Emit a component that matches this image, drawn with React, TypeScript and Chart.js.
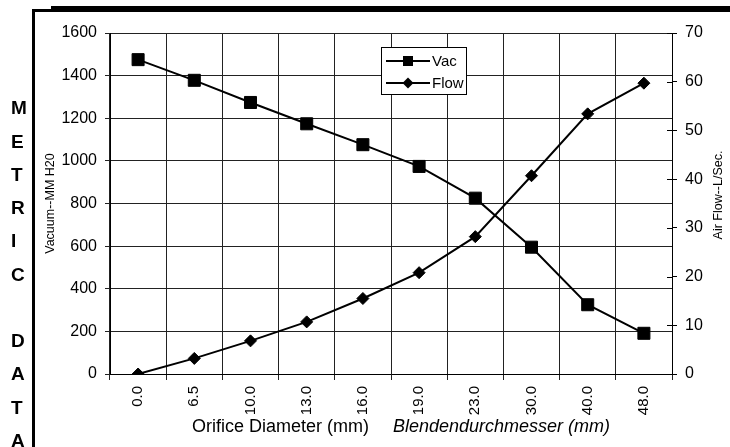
import React, { useEffect, useRef } from 'react';
import { Chart, registerables } from 'chart.js';

Chart.register(...registerables);

const categories = ['0.0', '6.5', '10.0', '13.0', '16.0', '19.0', '23.0', '30.0', '40.0', '48.0'];
const vacuum = [1475, 1378, 1274, 1174, 1076, 974, 825, 595, 325, 191];
const flow = [0, 3.2, 6.8, 10.7, 15.5, 20.8, 28.2, 40.7, 53.4, 59.7];
const sideLetters = ['M', 'E', 'T', 'R', 'I', 'C', '', 'D', 'A', 'T', 'A'];
const leftTitle = 'Vacuum--MM H20';
const rightTitle = 'Air Flow--L/Sec.';
const xTitleEn = 'Orifice Diameter (mm)';
const xTitleDe = 'Blendendurchmesser (mm)';
const seriesNames = ['Vac', 'Flow'];

const FONT = '"Liberation Sans", Arial, sans-serif';

const decor = {
  id: 'decor',
  beforeDraw(chart: any) {
    const ctx = chart.ctx;
    const W = chart.width;
    const H = chart.height;
    ctx.save();
    ctx.fillStyle = '#ffffff';
    ctx.fillRect(0, 0, W, H);
    ctx.fillStyle = '#000000';
    // frame
    ctx.fillRect(32, 9, 3, H - 9);
    ctx.fillRect(32, 9, W - 32, 3);
    ctx.fillRect(51, 6, W - 51, 3);
    // side letters
    ctx.font = 'bold 19px ' + FONT;
    ctx.textAlign = 'left';
    ctx.textBaseline = 'alphabetic';
    sideLetters.forEach((l, i) => {
      if (!l) return;
      const cy = 107.5 + i * 33.25;
      ctx.fillText(l, 11, cy + 6.8);
    });
    ctx.restore();
  },
  afterDraw(chart: any) {
    const ctx = chart.ctx;
    const area = chart.chartArea;
    ctx.save();
    // inner ticks on right axis
    const y1 = chart.scales.y1;
    ctx.strokeStyle = '#000';
    ctx.lineWidth = 1;
    y1.ticks.forEach((t: any) => {
      const py = Math.round(y1.getPixelForValue(t.value)) + 0.5;
      ctx.beginPath();
      ctx.moveTo(area.right - 5, py);
      ctx.lineTo(area.right, py);
      ctx.stroke();
    });

    // axis titles
    ctx.fillStyle = '#000';
    ctx.font = '12.5px ' + FONT;
    ctx.textAlign = 'center';
    ctx.textBaseline = 'middle';
    ctx.save();
    ctx.translate(51, 203.5);
    ctx.rotate(-Math.PI / 2);
    ctx.fillText(leftTitle, 0, 0);
    ctx.restore();
    ctx.save();
    ctx.translate(719, 195);
    ctx.rotate(-Math.PI / 2);
    ctx.fillText(rightTitle, 0, 0);
    ctx.restore();

    ctx.textAlign = 'left';
    ctx.textBaseline = 'alphabetic';
    ctx.font = '18px ' + FONT;
    ctx.fillText(xTitleEn, 192, 431.5);
    ctx.font = 'italic 18px ' + FONT;
    ctx.fillText(xTitleDe, 393, 431.5);

    // legend
    const lx = 381, ly = 47, lw = 86, lh = 48;
    ctx.fillStyle = '#fff';
    ctx.fillRect(lx, ly, lw, lh);
    ctx.strokeStyle = '#000';
    ctx.lineWidth = 1;
    ctx.strokeRect(lx + 0.5, ly + 0.5, lw - 1, lh - 1);
    const rows = [61, 83];
    rows.forEach((ry, i) => {
      ctx.strokeStyle = '#000';
      ctx.lineWidth = 2;
      ctx.beginPath();
      ctx.moveTo(386, ry);
      ctx.lineTo(430, ry);
      ctx.stroke();
      ctx.fillStyle = '#000';
      if (i === 0) {
        ctx.fillRect(403, ry - 5, 10, 10);
      } else {
        ctx.beginPath();
        ctx.moveTo(408 - 5.5, ry);
        ctx.lineTo(408, ry - 5.5);
        ctx.lineTo(408 + 5.5, ry);
        ctx.lineTo(408, ry + 5.5);
        ctx.closePath();
        ctx.fill();
      }
      ctx.font = '15px ' + FONT;
      ctx.textBaseline = 'middle';
      ctx.textAlign = 'left';
      ctx.fillText(seriesNames[i], 432, ry + 0.5);
    });
    ctx.restore();
  },
};

export default function App() {
  const ref = useRef<HTMLCanvasElement | null>(null);
  useEffect(() => {
    if (!ref.current) return;
    Chart.defaults.font.family = FONT;
    Chart.defaults.color = '#000';
    const plain = (v: any) => String(v);
    const chart = new Chart(ref.current, {
      type: 'line',
      data: {
        labels: categories,
        datasets: [
          {
            label: seriesNames[0],
            data: vacuum,
            yAxisID: 'y',
            borderColor: '#000',
            backgroundColor: '#000',
            borderWidth: 2,
            pointStyle: 'rect',
            pointRadius: 8.5,
            pointBorderWidth: 1,
            pointBackgroundColor: '#000',
            pointBorderColor: '#000',
            tension: 0,
          },
          {
            label: seriesNames[1],
            data: flow,
            yAxisID: 'y1',
            borderColor: '#000',
            backgroundColor: '#000',
            borderWidth: 2,
            pointStyle: 'rectRot',
            pointRadius: 6,
            pointBorderWidth: 1,
            pointBackgroundColor: '#000',
            pointBorderColor: '#000',
            tension: 0,
          },
        ],
      },
      options: {
        responsive: false,
        animation: false,
        devicePixelRatio: 1,
        layout: { padding: { top: 33, left: 0, right: 0, bottom: 0 } },
        plugins: {
          legend: { display: false },
          tooltip: { enabled: false },
          title: { display: false },
        },
        scales: {
          x: {
            type: 'category',
            offset: true,
            grid: { offset: true, color: '#222', lineWidth: 1, tickLength: 6, drawTicks: true },
            border: { color: '#000', width: 1 },
            ticks: {
              autoSkip: false,
              maxRotation: 90,
              minRotation: 90,
              padding: 6,
              font: { size: 15, family: FONT },
              color: '#000',
            },
            afterFit(s: any) {
              s.height = 73;
            },
          },
          y: {
            position: 'left',
            min: 0,
            max: 1600,
            ticks: { stepSize: 200, padding: 8, font: { size: 16, family: FONT }, color: '#000', callback: plain },
            grid: { color: '#222', lineWidth: 1, tickLength: 5 },
            border: { color: '#000', width: 1 },
            afterFit(s: any) {
              s.width = 110;
            },
          },
          y1: {
            position: 'right',
            min: 0,
            max: 70,
            ticks: { stepSize: 10, padding: 8, font: { size: 16, family: FONT }, color: '#000', callback: plain },
            grid: { drawOnChartArea: false, color: '#000', lineWidth: 1, tickLength: 5 },
            border: { color: '#000', width: 1 },
            afterFit(s: any) {
              s.width = 58;
            },
          },
        },
      },
      plugins: [decor],
    });
    return () => chart.destroy();
  }, []);
  return (
    <div style={{ position: 'absolute', left: 0, top: 0, width: 730, height: 447 }}>
      <canvas ref={ref} width={730} height={447} style={{ display: 'block' }} />
    </div>
  );
}
